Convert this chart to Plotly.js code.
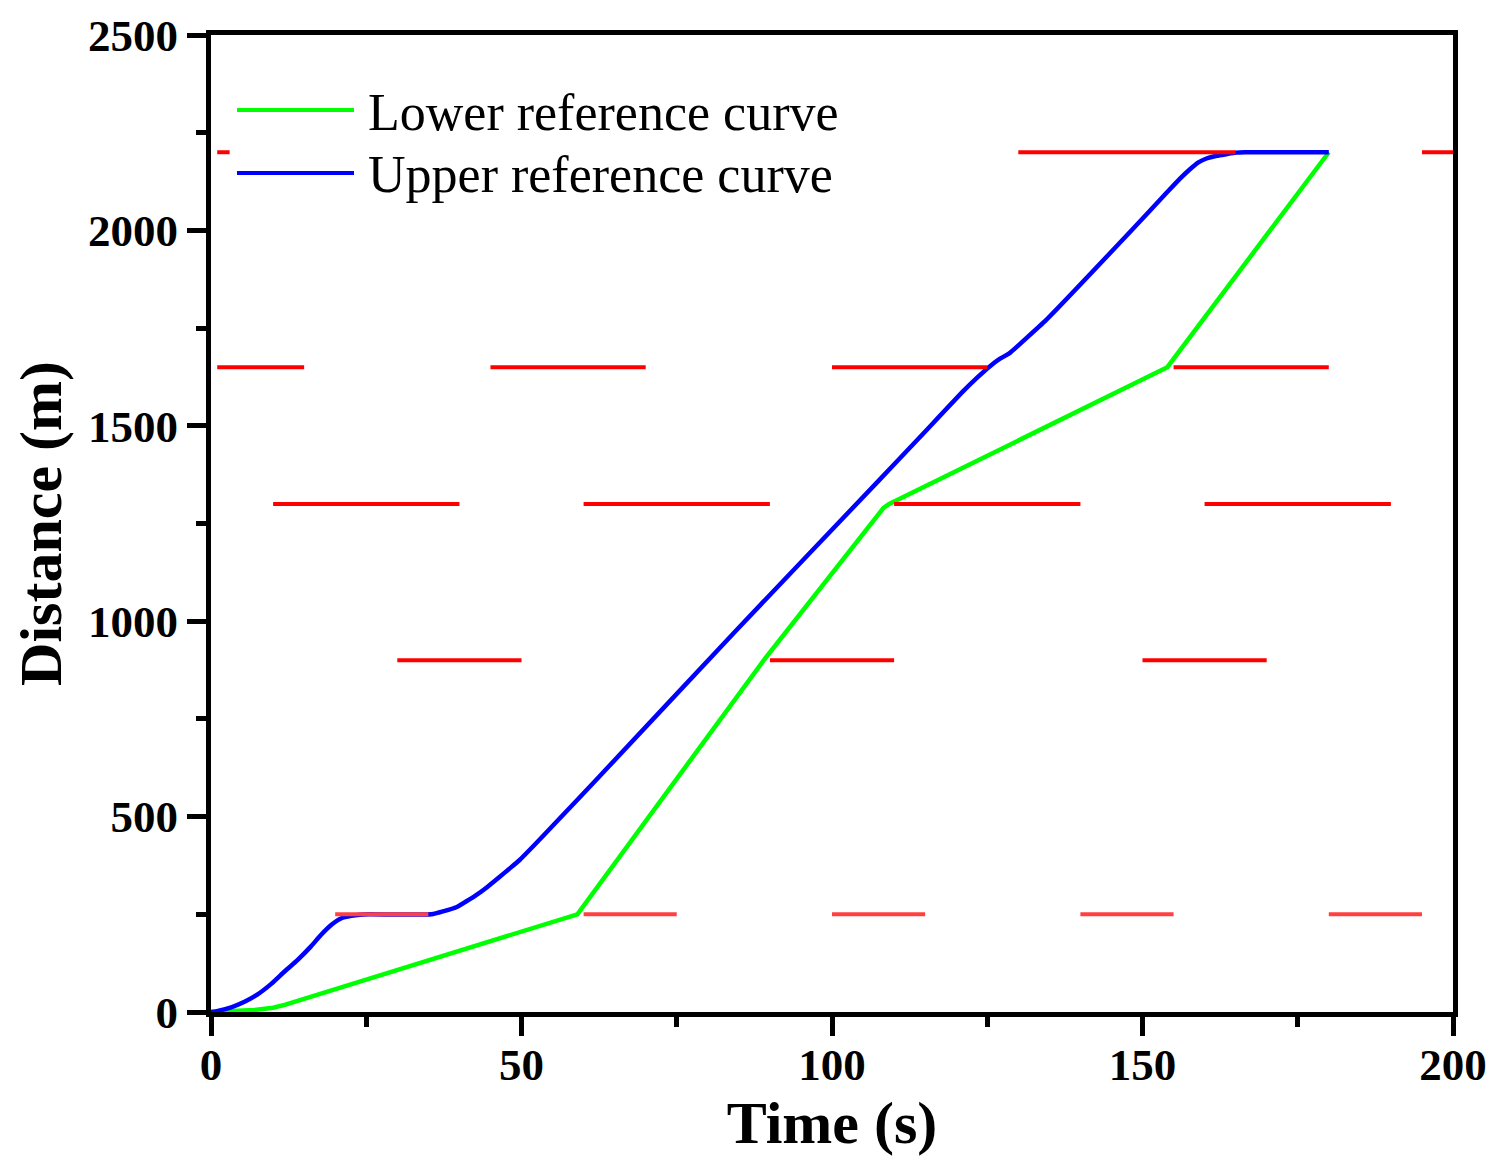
<!DOCTYPE html>
<html>
<head>
<meta charset="utf-8">
<script src="https://cdn.plot.ly/plotly-3.0.1.min.js"></script>
<style>
  html, body { margin: 0; padding: 0; background: #fff; }
  #chart { width: 1499px; height: 1173px; }
</style>
</head>
<body>
<div id="chart"></div>
<script>
// Lower reference curve (time s, distance m)
const lowerTime = [0, 4, 7, 10, 12, 59, 89, 108.3, 109.2, 110.5, 154, 180];
const lowerDist = [0, 1.5, 5, 11, 19, 250, 900, 1290, 1300, 1310, 1650, 2200];

// Upper reference curve
const upperTime = [0, 1.1, 3.25, 5.4, 7.5, 9.7, 11.8, 14, 16.1, 17.7, 19.4, 21, 22.6, 24, 25.5, 35.5, 37.5, 39.5, 41, 42.7, 44.5, 46.5, 48, 49.7, 52, 55.6, 62.5, 84.6, 107.6, 114.1, 121.1, 123.5, 125.4, 127, 128.6, 131, 134.5, 148.4, 153.8, 156, 157.6, 159, 160.3, 162, 163.5, 165.1, 166.5, 180];
const upperDist = [0, 3, 12, 26, 45, 72, 103, 134, 168, 197, 223, 240, 246, 249, 250, 250, 258, 268, 282, 299, 320, 346, 366, 389, 426, 486, 602, 977, 1361, 1470, 1588, 1625, 1652, 1671, 1686, 1720, 1771, 2003, 2095, 2132, 2156, 2174, 2184, 2191, 2195, 2199, 2200, 2200];

// Red signal phases: distance of signal, start and end times
const redLevel = [250, 250, 250, 250, 250, 900, 900, 900, 1300, 1300, 1300, 1300, 1650, 1650, 1650, 1650, 2200, 2200, 2200];
const redStart = [20, 60, 100, 140, 180, 30, 90, 150, 10, 60, 110, 160, 1, 45, 100, 155, 1, 130, 195];
const redEnd   = [35, 75, 115, 155, 195, 50, 110, 170, 40, 90, 140, 190, 15, 70, 125, 180, 3, 165, 200];

const seriesNames = ['Lower reference curve', 'Upper reference curve'];
const seriesColors = ['#00ff00', '#0000ff'];

function redTrace(filterFn, color) {
  const x = [], y = [];
  for (let i = 0; i < redLevel.length; i++) {
    if (!filterFn(redLevel[i])) continue;
    x.push(redStart[i], redEnd[i], null);
    y.push(redLevel[i], redLevel[i], null);
  }
  return {
    x: x, y: y, type: 'scatter', mode: 'lines',
    line: { color: color, width: 4 },
    showlegend: false, hoverinfo: 'skip', connectgaps: false
  };
}

const traces = [
  {
    x: lowerTime, y: lowerDist, type: 'scatter', mode: 'lines',
    name: seriesNames[0], line: { color: seriesColors[0], width: 4.5 }
  },
  {
    x: upperTime, y: upperDist, type: 'scatter', mode: 'lines',
    name: seriesNames[1], line: { color: seriesColors[1], width: 4.5, shape: 'spline', smoothing: 0.5 }
  },
  redTrace(v => v === 250, '#ff4040'),
  redTrace(v => v !== 250, '#ff0000')
];

// Plot area in pixels (for the hand-placed legend)
const M = { l: 211, r: 46, t: 35, b: 161 };
const W = 1499, H = 1173;
const pw = W - M.l - M.r, ph = H - M.t - M.b;
const px = v => (v - M.l) / pw;
const py = v => 1 - (v - M.t) / ph;

const legendShapes = [], legendAnn = [];
const legY = [110, 173];
for (let i = 0; i < 2; i++) {
  legendShapes.push({
    type: 'line', xref: 'paper', yref: 'paper',
    x0: px(237), x1: px(354), y0: py(legY[i]), y1: py(legY[i]),
    line: { color: seriesColors[i], width: 4 }
  });
  legendAnn.push({
    xref: 'paper', yref: 'paper', x: px(366), y: py(legY[i] + 2),
    xanchor: 'left', yanchor: 'middle', showarrow: false,
    text: seriesNames[i],
    font: { family: 'Liberation Serif', size: 52, color: '#000' }
  });
}

const tickFont = { family: 'Liberation Serif', size: 45, color: '#000', weight: 700 };
const titleFont = { family: 'Liberation Serif', size: 60, color: '#000', weight: 700 };

const layout = {
  width: W, height: H,
  paper_bgcolor: '#fff', plot_bgcolor: '#fff',
  margin: M,
  showlegend: false,
  shapes: legendShapes,
  annotations: legendAnn,
  xaxis: {
    range: [0, 200], dtick: 50, tick0: 0,
    showgrid: false, zeroline: false,
    showline: true, linecolor: '#000', linewidth: 5, mirror: true,
    ticks: 'outside', ticklen: 19, tickwidth: 5, tickcolor: '#000',
    ticklabelstandoff: -10,
    minor: { dtick: 25, ticks: 'outside', ticklen: 10, tickwidth: 5, tickcolor: '#000' },
    tickfont: tickFont,
    title: { text: 'Time (s)', font: titleFont, standoff: 10 }
  },
  yaxis: {
    range: [0, 2500], dtick: 500, tick0: 0,
    showgrid: false, zeroline: false,
    showline: true, linecolor: '#000', linewidth: 5, mirror: true,
    ticks: 'outside', ticklen: 19, tickwidth: 5, tickcolor: '#000',
    minor: { dtick: 250, ticks: 'outside', ticklen: 10, tickwidth: 5, tickcolor: '#000' },
    tickfont: tickFont,
    title: { text: 'Distance (m)', font: titleFont, standoff: 9 }
  }
};

Plotly.newPlot('chart', traces, layout, { displayModeBar: false, staticPlot: true });
</script>
</body>
</html>
